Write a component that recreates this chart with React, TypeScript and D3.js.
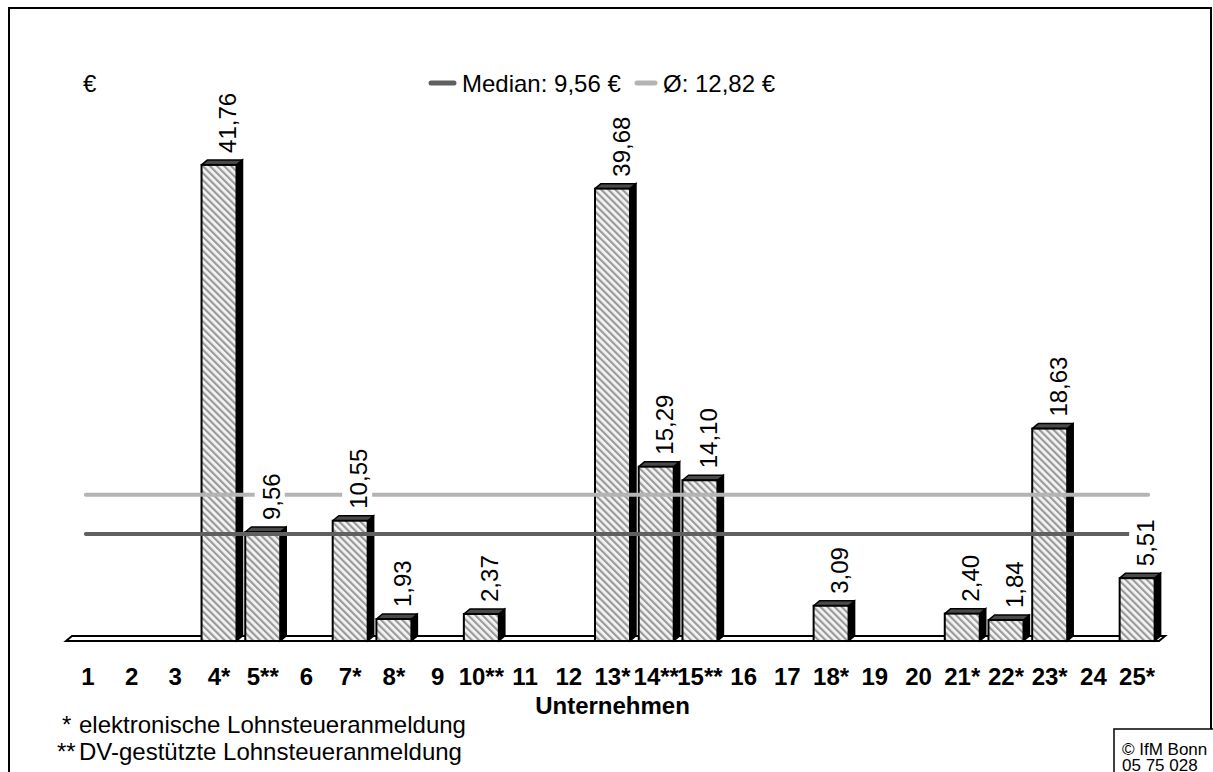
import React from 'react';
import * as d3 from 'd3';

const categories = ["1","2","3","4*","5**","6","7*","8*","9","10**","11","12","13*","14**","15**","16","17","18*","19","20","21*","22*","23*","24","25*"];
const values: (number | null)[] = [null,null,null,41.76,9.56,null,10.55,1.93,null,2.37,null,null,39.68,15.29,14.10,null,null,3.09,null,null,2.40,1.84,18.63,null,5.51];
const medianValue = 9.56;
const meanValue = 12.82;
const legendLabels = ["Median: 9,56 €", "Ø: 12,82 €"];
const axisTitle = "Unternehmen";
const unitLabel = "€";
const footnoteMarks = ["*", "**"];
const footnoteTexts = ["elektronische Lohnsteueranmeldung", "DV-gestützte Lohnsteueranmeldung"];
const sourceLines = ["© IfM Bonn", "05 75 028"];

const W = 1213, H = 772;
const FONT = "'Liberation Sans', Arial, Helvetica, sans-serif";
const FS = 24;
const DX = 6, DY = 5;
const BASE = 641;
const MEDIAN_COLOR = "#606060";
const MEAN_COLOR = "#b4b4b4";

const x = d3.scaleBand<string>().domain(categories).range([66, 1159]).paddingInner(0.2).paddingOuter(0.1);
const y = d3.scaleLinear().domain([0, 45]).range([BASE, BASE - 45 * 11.4]);
const fmt = (v: number) => d3.format(".2f")(v).replace(".", ",");
const cx = (c: string) => (x(c) as number) + x.bandwidth() / 2;

export default function App() {
  const bw = x.bandwidth();
  const L = x.range()[0], R = x.range()[1];
  const lineX0 = cx(categories[0]) - 2;
  const lineX1 = cx(categories[categories.length - 1]) + 11;
  const bars = categories.map((c, i) => ({ c, v: values[i] })).filter(d => d.v != null) as { c: string; v: number }[];

  return (
    <svg width={W} height={H} style={{ position: 'absolute', left: 0, top: 0, background: '#fff' }} fontFamily={FONT}>
      <defs>
        <pattern id="hatch" width="5" height="5" patternUnits="userSpaceOnUse" patternTransform="rotate(-45)">
          <rect width="5" height="5" fill="#f4f4f4" />
          <rect x="0" y="0" width="2.2" height="5" fill="#9a9a9a" />
        </pattern>
      </defs>
      <rect x={W / 2 - W / 2} y={0} width={W} height={H} fill="#fff" />
      <rect x={9} y={8} width={1202} height={800} fill="none" stroke="#000" strokeWidth={2} />

      {/* floor */}
      <polygon
        points={`${L},${BASE} ${R},${BASE} ${R + DX},${BASE - DY} ${L + DX},${BASE - DY}`}
        fill="#fff" stroke="#000" strokeWidth={2} strokeLinejoin="miter" />

      {/* bars */}
      {bars.map(d => {
        const x0 = x(d.c) as number;
        const yt = y(d.v);
        return (
          <g key={d.c}>
            <polygon points={`${x0 + bw},${yt} ${x0 + bw + DX},${yt - DY} ${x0 + bw + DX},${BASE - DY} ${x0 + bw},${BASE}`}
              fill="#000" stroke="#000" strokeWidth={1.5} />
            <polygon points={`${x0},${yt} ${x0 + DX},${yt - DY} ${x0 + bw + DX},${yt - DY} ${x0 + bw},${yt}`}
              fill="#4a4a4a" stroke="#000" strokeWidth={1.5} strokeLinejoin="round" />
            <rect x={x0} y={yt} width={bw} height={BASE - yt} fill="url(#hatch)" stroke="#000" strokeWidth={2} />
          </g>
        );
      })}

      {/* median & mean lines */}
      <line x1={lineX0} x2={lineX1} y1={y(meanValue)} y2={y(meanValue)} stroke={MEAN_COLOR} strokeWidth={4} strokeLinecap="round" />
      <line x1={lineX0} x2={lineX1} y1={y(medianValue) + 2} y2={y(medianValue) + 2} stroke={MEDIAN_COLOR} strokeWidth={4} strokeLinecap="round" />

      {/* value labels */}
      {bars.map(d => {
        const s = fmt(d.v);
        const len = ((s.length - 1) * 0.556 + 0.278) * FS;
        const tx = cx(d.c) + 17;
        const ty = y(d.v) - DY - 7;
        return (
          <g key={'l' + d.c} transform={`translate(${tx},${ty}) rotate(-90)`}>
            <rect x={-3} y={-25} width={len + 6} height={30} fill="#fff" />
            <text x={0} y={0} fontSize={FS} fill="#000">{s}</text>
          </g>
        );
      })}

      {/* category labels */}
      {categories.map(c => (
        <text key={'c' + c} x={cx(c)} y={685} fontSize={FS} fontWeight="bold" textAnchor="middle">{c}</text>
      ))}
      <text x={cx(categories[12])} y={714} fontSize={FS} fontWeight="bold" textAnchor="middle">{axisTitle}</text>

      {/* unit + legend */}
      <text x={83} y={92} fontSize={FS}>{unitLabel}</text>
      <line x1={431} x2={454} y1={83} y2={83} stroke={MEDIAN_COLOR} strokeWidth={5} strokeLinecap="round" />
      <text x={462} y={92} fontSize={FS}>{legendLabels[0]}</text>
      <line x1={637} x2={655} y1={83} y2={83} stroke={MEAN_COLOR} strokeWidth={5} strokeLinecap="round" />
      <text x={663} y={92} fontSize={FS}>{legendLabels[1]}</text>

      {/* footnotes */}
      {footnoteTexts.map((t, i) => (
        <g key={'f' + i}>
          <text x={footnoteMarks[i].length === 1 ? 62 : 57} y={733 + i * 27} fontSize={FS}>{footnoteMarks[i]}</text>
          <text x={79} y={733 + i * 27} fontSize={FS}>{t}</text>
        </g>
      ))}

      {/* source box */}
      <rect x={1114} y={729} width={110} height={60} fill="#fff" stroke="#000" strokeWidth={1.5} />
      {sourceLines.map((s, i) => (
        <text key={'s' + i} x={1122} y={755 + i * 16} fontSize={17}>{s}</text>
      ))}
    </svg>
  );
}
